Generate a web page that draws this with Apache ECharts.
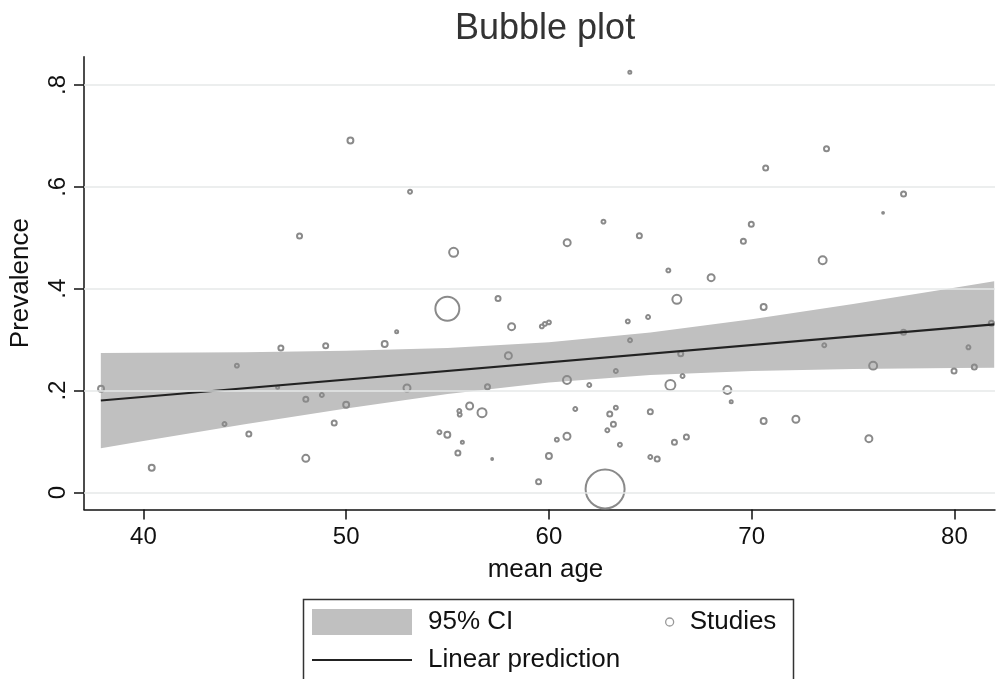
<!DOCTYPE html>
<html><head><meta charset="utf-8">
<script src="https://cdn.jsdelivr.net/npm/echarts@6/dist/echarts.min.js"></script>
<style>html,body{margin:0;padding:0;background:#fff}#c{width:1001px;height:679px}</style>
</head><body><div id="c"></div>
<script>
// ---- data ----
const ages = [50.21,47.70,63.99,53.15,55.30,60.90,62.69,64.46,65.89,73.69,70.69,77.49,76.48,69.98,69.59,73.50,68.00,37.91,40.41,44.00,44.61,45.20,46.78,46.62,48.01,48.01,48.80,48.99,49.41,50.00,51.90,52.49,53.00,54.99,57.49,58.16,58.00,56.97,59.65,59.80,60.00,55.58,55.60,56.09,56.70,54.60,54.99,55.73,55.51,57.20,59.49,60.00,60.39,60.89,60.89,61.30,61.99,62.77,63.00,63.30,63.18,62.88,63.50,63.30,64.00,63.89,64.89,66.31,65.00,65.99,66.50,66.59,65.00,65.34,66.19,66.78,68.80,68.99,70.59,70.59,72.18,73.58,75.78,75.99,77.49,79.98,80.69,80.98,81.82];
const prevalence = [0.691,0.5035,0.825,0.5905,0.4715,0.4905,0.5317,0.504,0.436,0.675,0.637,0.586,0.549,0.5265,0.493,0.456,0.4217,0.2038,0.0487,0.1345,0.249,0.1148,0.2837,0.2065,0.183,0.067,0.1914,0.2882,0.1364,0.1724,0.2915,0.3157,0.2051,0.3608,0.381,0.3255,0.2686,0.2077,0.326,0.331,0.334,0.16,0.153,0.1698,0.1567,0.1182,0.1135,0.0985,0.0775,0.0658,0.0212,0.0716,0.1037,0.1103,0.2208,0.1639,0.211,0.0069,0.1541,0.1665,0.1339,0.1221,0.0938,0.2385,0.2988,0.336,0.3445,0.3792,0.1586,0.211,0.2725,0.2287,0.0697,0.0658,0.0985,0.109,0.2012,0.1783,0.3641,0.1404,0.1437,0.289,0.1057,0.249,0.3144,0.2385,0.285,0.2464,0.3322];
const weights = [12,9,4,6,25,16,6,9,6,9,9,9,2,9,9,20,16,12,12,6,6,9,9,4,9,16,6,9,9,12,12,4,16,156,9,16,16,9,6,6,6,6,6,16,25,6,12,4,9,2,9,12,6,16,20,6,6,400,9,6,9,6,6,6,6,6,6,25,9,30,9,6,6,9,9,9,20,4,12,12,16,6,16,20,9,9,6,9,9];
const fitAge = [37.9, 81.96];
const fitPrev = [0.1806, 0.3299];
const ciAge   = [37.9, 40, 45, 50, 55, 60, 65, 70, 75, 80, 81.96];
const ciLower = [0.0870, 0.1013, 0.1339, 0.1650, 0.1932, 0.2159, 0.2307, 0.2387, 0.2426, 0.2444, 0.2449];
const ciUpper = [0.2738, 0.2741, 0.2755, 0.2782, 0.2838, 0.2951, 0.3141, 0.3401, 0.3700, 0.4020, 0.4149];
const xTicks = [40, 50, 60, 70, 80];
const yTicks = [0, 0.2, 0.4, 0.6, 0.8];
const yTickLabels = ['0', '.2', '.4', '.6', '.8'];
const titleText = 'Bubble plot';
const xName = 'mean age';
const yName = 'Prevalence';

// ---- chart ----
const FONT = '"Liberation Sans", Arial, sans-serif';
const chart = echarts.init(document.getElementById('c'), null, {renderer: 'canvas'});
const scatterData = ages.map((a, i) => [a, prevalence[i], weights[i]]);
const fitData = fitAge.map((a, i) => [a, fitPrev[i]]);
const ciData = ciAge.map((a, i) => [a, ciLower[i], ciUpper[i]]);

chart.setOption({
  animation: false,
  backgroundColor: '#fff',
  textStyle: {fontFamily: FONT},
  title: {
    text: titleText, left: 455, top: 11, padding: 0,
    textStyle: {fontFamily: FONT, fontSize: 36, fontWeight: 'normal', color: '#333'}
  },
  grid: {left: 83, right: 6, top: 56.7, bottom: 169.5, containLabel: false},
  xAxis: {
    type: 'value', min: 37.07, max: 82.0,
    name: xName, nameLocation: 'middle', nameGap: 47,
    nameTextStyle: {fontFamily: FONT, fontSize: 26, color: '#111', padding: [0, 0, 0, 12]},
    axisLine: {show: true, onZero: false, lineStyle: {color: '#111', width: 1.5}},
    axisTick: {show: true, length: 10, customValues: xTicks, lineStyle: {color: '#111', width: 1.5}},
    axisLabel: {customValues: xTicks, fontFamily: FONT, fontSize: 24, color: '#111', margin: 16},
    splitLine: {show: false}
  },
  yAxis: {
    type: 'value', min: -0.0334, max: 0.8555,
    name: yName, nameLocation: 'middle', nameGap: 50, nameRotate: 90,
    nameTextStyle: {fontFamily: FONT, fontSize: 26, color: '#111'},
    axisLine: {show: true, onZero: false, lineStyle: {color: '#111', width: 1.5}},
    axisTick: {show: true, length: 10, customValues: yTicks, lineStyle: {color: '#111', width: 1.5}},
    axisLabel: {
      customValues: yTicks, rotate: 90, fontFamily: FONT, fontSize: 24, color: '#111', margin: 14,
      formatter: v => { const i = yTicks.findIndex(t => Math.abs(t - v) < 1e-9); return i >= 0 ? yTickLabels[i] : ''; }
    },
    splitLine: {show: false}
  },
  legend: [
    {data: [{name: '95% CI', icon: 'rect', itemStyle: {color: '#c0c0c0', borderWidth: 0}}],
     left: 312, top: 609, itemWidth: 100, itemHeight: 26, padding: 0, selectedMode: false,
     textStyle: {fontFamily: FONT, fontSize: 26, color: '#111', padding: [0, 0, 0, 11]}},
    {data: [{name: 'Studies', icon: 'circle', itemStyle: {color: '#fff', borderColor: '#999', borderWidth: 1.3}}],
     left: 665, top: 609, itemWidth: 8, itemHeight: 8, padding: 0, selectedMode: false,
     textStyle: {fontFamily: FONT, fontSize: 26, color: '#111', padding: [0, 0, 0, 11]}},
    {data: [{name: 'Linear prediction', icon: 'rect', itemStyle: {color: '#222', borderWidth: 0}}],
     left: 312, top: 647, itemWidth: 100, itemHeight: 2, padding: 0, selectedMode: false,
     textStyle: {fontFamily: FONT, fontSize: 26, color: '#111', padding: [0, 0, 0, 11]}}
  ],
  graphic: [
    {type: 'rect', left: 301, top: 597, shape: {width: 490, height: 120},
     style: {fill: 'none', stroke: '#333', lineWidth: 1.5}, silent: true}
  ],
  series: [
    {
      name: 'grid', type: 'line', data: [], silent: true, z: 1,
      markLine: {
        silent: true, symbol: 'none', label: {show: false}, animation: false,
        lineStyle: {color: '#e6e8e8', width: 1.6, type: 'solid'},
        data: yTicks.map(v => ({yAxis: v}))
      }
    },
    {
      name: '95% CI', type: 'custom', z: 2, silent: true,
      data: ciData, encode: {x: 0, y: [1, 2]},
      renderItem: function (params, api) {
        if (params.dataIndex !== 0) return null;
        const pts = [];
        for (let i = 0; i < ciData.length; i++) pts.push(api.coord([ciData[i][0], ciData[i][2]]));
        for (let i = ciData.length - 1; i >= 0; i--) pts.push(api.coord([ciData[i][0], ciData[i][1]]));
        return {type: 'polygon', shape: {points: pts}, style: {fill: '#c0c0c0', stroke: null}};
      }
    },
    {
      name: 'Studies', type: 'scatter', z: 3, data: scatterData,
      symbol: 'circle',
      symbolSize: d => Math.max(1.5, 2 * Math.sqrt(d[2]) - 1.0),
      itemStyle: {color: 'rgba(0,0,0,0)', borderColor: '#8a8a8a', borderWidth: 2, opacity: 1}
    },
    {
      name: 'Linear prediction', type: 'line', z: 4, data: fitData,
      symbol: 'none', lineStyle: {color: '#222', width: 2.2}
    }
  ]
});
</script>
</body></html>
